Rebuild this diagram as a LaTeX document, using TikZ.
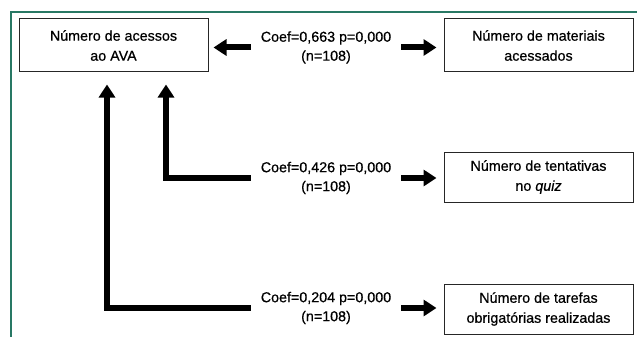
\documentclass[tikz,border=0pt]{standalone}
\usepackage{fontspec}
\setmainfont[FakeBold=0.6]{Liberation Sans}
\usetikzlibrary{arrows.meta, positioning}
\definecolor{framegreen}{RGB}{40,120,100}
\tikzset{
  box/.style={draw=black!85, line width=1pt, minimum width=189pt, minimum height=53pt, align=center, inner sep=0pt, font=\fontsize{14.3}{20}\selectfont},
  coef/.style={align=center, minimum width=150pt, inner sep=0pt, font=\fontsize{14.3}{19}\selectfont},
  fat/.style={line width=6pt, -{Triangle[length=13pt,width=16pt]}},
  elbow/.style={fat, line join=miter}
}
\begin{document}
\begin{tikzpicture}[x=1pt,y=-1pt]
	\useasboundingbox (0,0) rectangle (637,337);
	% moldura
	\draw[framegreen, line width=1.5pt] (11,337) |- (637,12);
	% caixas
	\node[box] (acessos) at (113.5,45.5) {Número de acessos\\ao AVA};
	\node[box] (materiais) at (538.5,45.5) {Número de materiais\\acessados};
	\node[box, minimum height=50pt] (tentativas) at (538.5,177) {Número de tentativas\\no \textit{quiz}};
	\node[box, minimum height=50pt] (tarefas) at (538.5,309) {Número de tarefas\\obrigatórias realizadas};
	% coeficientes
	\node[coef] (coefA) at (326,47.5) {Coef=0,663 p=0,000\\(n=108)};
	\node[coef] (coefB) at (326,178) {Coef=0,426 p=0,000\\(n=108)};
	\node[coef] (coefC) at (326,308) {Coef=0,204 p=0,000\\(n=108)};
	% setas
	\draw[fat, shorten >=5pt] (coefA.west) -- (coefA.west -| acessos.east);
	\draw[fat, shorten >=7pt] (coefA.east) -- (coefA.east -| materiais.west);
	\draw[fat, shorten >=7pt] (coefB.east) -- (coefB.east -| tentativas.west);
	\draw[fat, shorten >=7pt] (coefC.east) -- (coefC.east -| tarefas.west);
	\draw[elbow, shorten >=12pt] (coefB.west) -| ([xshift=52.5pt]acessos.south);
	\draw[elbow, shorten >=12pt] (coefC.west) -| ([xshift=-6.5pt]acessos.south);
\end{tikzpicture}
\end{document}
